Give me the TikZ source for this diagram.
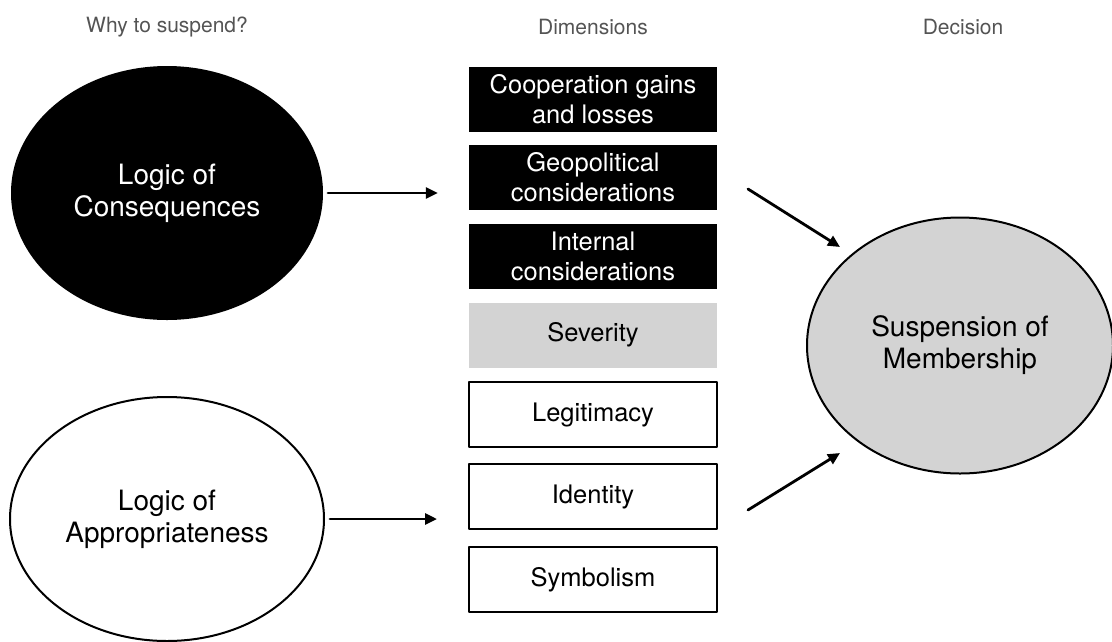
\documentclass[tikz,border=0pt]{standalone}
\usepackage{fontspec}
\setmainfont{TeX Gyre Heros}
\usetikzlibrary{arrows.meta,shapes.geometric}
\begin{document}
\begin{tikzpicture}[x=1pt,y=-1pt,line cap=round,line join=round,
  >={Triangle[length=12pt,width=11pt]},
  head/.style={text=black!67,font=\fontsize{21}{24}\selectfont},
  logic/.style={ellipse,draw=black,line width=2pt,inner sep=0pt,align=center,font=\fontsize{28}{32}\selectfont},
  dimbox/.style={rectangle,minimum width=248,minimum height=65,inner sep=0pt,align=center,font=\fontsize{25.5}{30}\selectfont},
  darkbox/.style={dimbox,fill=black,text=white},
  greybox/.style={dimbox,fill=boxgrey},
  whitebox/.style={dimbox,draw=black,line width=2pt},
  arr/.style={line width=2.8pt,->}]
  \definecolor{boxgrey}{HTML}{D3D3D3}
  \useasboundingbox (0,0) rectangle (1112,641);
  \clip (0,0) rectangle (1112,641);
  % column heads
  \node[head] (hwhy) at (167,27) {Why to suspend?};
  \node[head] (hdim) at (593,27) {Dimensions};
  \node[head] (hdec) at (963,27) {Decision};
  % logics
  \node[logic,fill=black,text=white,minimum width=310,minimum height=252] (cons) at (167,193) {Logic of\\Consequences};
  \node[logic,fill=white,minimum width=314,minimum height=244] (appr) at (167,519) {Logic of\\Appropriateness};
  % dimensions
  \node[darkbox] (coop) at (593,99) {Cooperation gains\\and losses};
  \node[darkbox] (geo) at (593,177.5) {Geopolitical\\considerations};
  \node[darkbox] (intl) at (593,256) {Internal\\considerations};
  \node[greybox] (sev) at (593,335) {Severity};
  \node[whitebox] (legit) at (593,414.5) {Legitimacy};
  \node[whitebox] (ident) at (593,496.5) {Identity};
  \node[whitebox] (symb) at (593,579.5) {Symbolism};
  % decision
  \node[logic,fill=boxgrey,minimum width=306,minimum height=256] (susp) at (960,345.5) {Suspension of\\Membership};
  % arrows
  \coordinate (c1) at (748,189);
  \coordinate (c2) at (840,247);
  \coordinate (c3) at (748,510);
  \coordinate (c4) at (840,453);
  \draw[arr] ([xshift=5]cons.east) -- ([xshift=-31]cons.east -| geo.west);
  \draw[arr] ([xshift=5]appr.east) -- ([xshift=-31]appr.east -| ident.west);
  \draw[arr] (c1) -- (c2);
  \draw[arr] (c3) -- (c4);
\end{tikzpicture}
\end{document}
